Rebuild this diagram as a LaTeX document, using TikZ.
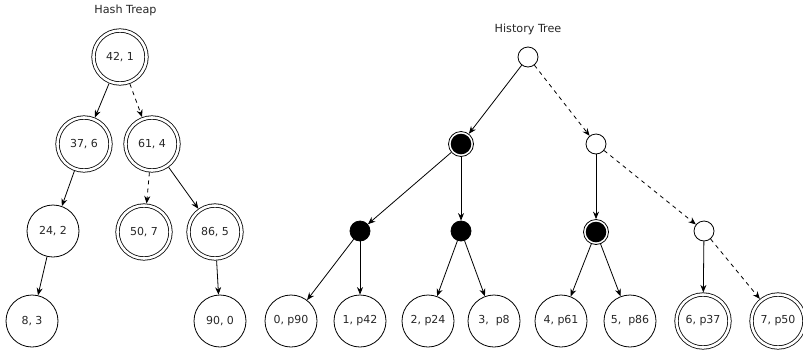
\documentclass[tikz,border=0pt]{standalone}
\usepackage{fontspec}
\setmainfont{DejaVu Sans}
\usetikzlibrary{arrows.meta}
\tikzset{
  lbl/.style={font=\fontsize{11}{13}\selectfont, text=black!85},
  ttl/.style={font=\fontsize{11.2}{13}\selectfont, text=black!85, inner sep=0pt},
  plain/.style={circle, draw, line width=0.8pt, minimum size=52pt, inner sep=0pt, lbl},
  dbl/.style={circle, draw, line width=0.8pt, double, double distance=2.6pt, minimum size=53pt, inner sep=0pt, outer sep=2.1pt, lbl},
  whitesm/.style={circle, draw, line width=0.8pt, minimum size=20pt, inner sep=0pt},
  blacksm/.style={circle, draw, fill=black, line width=0.8pt, minimum size=20pt, inner sep=0pt},
  blackdbl/.style={circle, draw, line width=0.8pt, minimum size=25pt, inner sep=0pt,
    path picture={\fill[black] (path picture bounding box.center) circle (10.3pt);}},
  arr/.style={-{Stealth[length=7.5pt,width=6pt]}, line width=0.8pt},
  dsh/.style={arr, dash pattern=on 4pt off 4pt}
}
\begin{document}
\begin{tikzpicture}[x=1pt,y=-1pt]
\useasboundingbox (0,0) rectangle (803,349);
% Hash Treap
\node[ttl] (t1) at (125.5,10) {Hash Treap};
\node[dbl] (h42) at (120,57) {42, 1};
\node[dbl] (h37) at (84,144) {37, 6};
\node[dbl] (h61) at (152,144) {61, 4};
\node[plain] (h24) at (53,231) {24, 2};
\node[dbl] (h50) at (144,232) {50, 7};
\node[dbl] (h86) at (215,232) {86, 5};
\node[plain] (h8) at (32,321) {8, 3};
\node[plain] (h90) at (220,321) {90, 0};
\draw[arr] (h42) -- (h37);
\draw[dsh] (h42) -- (h61);
\draw[arr] (h37) -- (h24);
\draw[dsh] (h61) -- (h50);
\draw[arr] (h61) -- (h86);
\draw[arr] (h24) -- (h8);
\draw[arr] (h86) -- (h90);
% History Tree
\node[ttl] (t2) at (528,29) {History Tree};
\node[whitesm] (r) at (528,57) {};
\node[blackdbl] (a) at (461,144) {};
\node[whitesm] (b) at (596,144) {};
\node[blacksm] (c) at (360,231) {};
\node[blacksm] (d) at (461,231) {};
\node[blackdbl] (e) at (596,232) {};
\node[whitesm] (f) at (704,231) {};
\node[plain] (l0) at (291,321) {0, p90};
\node[plain] (l1) at (360,321) {1, p42};
\node[plain] (l2) at (428,321) {2, p24};
\node[plain] (l3) at (494,321) {3,~~p8};
\node[plain] (l4) at (561,321) {4, p61};
\node[plain] (l5) at (630,321) {5,~~p86};
\node[dbl] (l6) at (703,321) {6, p37};
\node[dbl] (l7) at (778,321) {7, p50};
\draw[arr] (r) -- (a);
\draw[dsh] (r) -- (b);
\draw[arr] (a) -- (c);
\draw[arr] (a) -- (d);
\draw[arr] (b) -- (e);
\draw[dsh] (b) -- (f);
\draw[arr] (c) -- (l0);
\draw[arr] (c) -- (l1);
\draw[arr] (d) -- (l2);
\draw[arr] (d) -- (l3);
\draw[arr] (e) -- (l4);
\draw[arr] (e) -- (l5);
\draw[arr] (f) -- (l6);
\draw[dsh] (f) -- (l7);
\end{tikzpicture}
\end{document}
